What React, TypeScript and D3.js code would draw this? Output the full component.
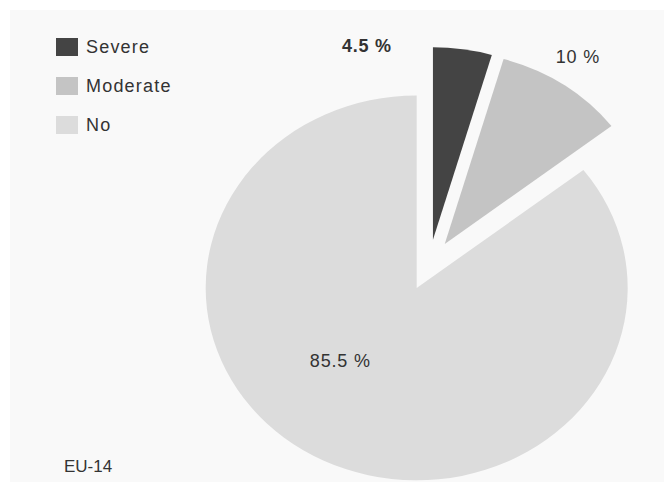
import React from "react";
import * as d3 from "d3";

const categories = ["Severe", "Moderate", "No"];
const values = [4.5, 10, 85.5];
const valueLabels = ["4.5 %", "10 %", "85.5 %"];
const colors = ["#444444", "#c4c4c4", "#dcdcdc"];
const regionLabel = "EU-14";

const W = 664;
const H = 483;
const cx = 429;
const cy = 265;
const R = 211;
const yScale = 0.912;
const explode = 28;
// label polar positions (degrees clockwise from 12 o'clock, radius in pie units)
const labelAngles = [-14.5, 33.2, 220];
const labelRadii = [248, 272, 138];
const labelWeights = [700, 400, 400];

export default function App() {
  const pie = d3
    .pie<number>()
    .sort(null)
    .value((d) => d)
    .startAngle(0)
    .endAngle(2 * Math.PI);
  const arcs = pie(values);
  const arc = d3.arc<d3.PieArcDatum<number>>().innerRadius(0).outerRadius(R);

  const font = "'Liberation Sans', Arial, sans-serif";

  return (
    <svg
      width={W}
      height={H}
      style={{ position: "absolute", left: 0, top: 0 }}
      fontFamily={font}
    >
      <rect x={0} y={0} width={W} height={H} fill="#ffffff" />
      <rect x={10} y={10} width={W - 10} height={H - 11} fill="#f9f9f9" />
      <g transform={`translate(${cx},${cy}) scale(1,${yScale})`}>
        {arcs.map((a, i) => {
          const mid = (a.startAngle + a.endAngle) / 2;
          const dx = explode * Math.sin(mid);
          const dy = -explode * Math.cos(mid);
          return (
            <path
              key={categories[i]}
              d={arc(a) || ""}
              fill={colors[i]}
              transform={`translate(${dx},${dy})`}
            />
          );
        })}
      </g>
      {arcs.map((a, i) => {
        const ang = (labelAngles[i] * Math.PI) / 180;
        const x = cx + labelRadii[i] * Math.sin(ang);
        const y = cy - labelRadii[i] * Math.cos(ang) * yScale;
        return (
          <text
            key={"l" + i}
            x={x}
            y={y}
            textAnchor="middle"
            dominantBaseline="central"
            fontSize={18}
            letterSpacing={0.8}
            fontWeight={labelWeights[i]}
            fill="#333"
          >
            {valueLabels[i]}
          </text>
        );
      })}
      {categories.map((c, i) => (
        <g key={c} transform={`translate(56,${38 + i * 39})`}>
          <rect width={22} height={18} fill={colors[i]} />
          <text
            x={30}
            y={9}
            dominantBaseline="central"
            fontSize={18}
            letterSpacing={1.2}
            fill="#333"
          >
            {c}
          </text>
        </g>
      ))}
      <text x={64} y={466} dominantBaseline="central" fontSize={17} fill="#333">
        {regionLabel}
      </text>
    </svg>
  );
}
